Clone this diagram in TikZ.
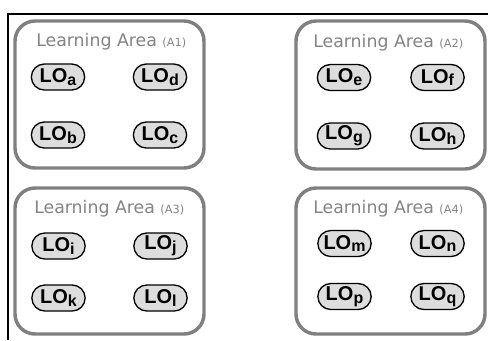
\documentclass[tikz,border=0pt]{standalone}
\usepackage{fontspec}
\usetikzlibrary{shapes.misc}
\newfontfamily\areafont{DejaVu Sans}
\newfontfamily\lofont{Liberation Sans}
\newcommand{\losub}[1]{\raisebox{-2.2pt}{\fontsize{12}{12}\selectfont #1}}
\newcommand{\areatag}[1]{{\fontsize{8.5}{8.5}\selectfont #1}}

\begin{document}
\begin{tikzpicture}[x=0.75pt,y=0.75pt,yscale=-1,xscale=1,
	areabox/.style={draw={rgb, 255:red, 128; green, 128; blue, 128 }, line width=2.6pt, rounded corners=15pt},
	areatitle/.style={anchor=base west, inner sep=0pt, text={rgb, 255:red, 132; green, 132; blue, 132 }, font=\areafont\fontsize{13}{13}\selectfont},
	lopill/.style={rounded rectangle, draw, line width=1pt, fill={rgb, 255:red, 221; green, 221; blue, 221 }, minimum width=42pt, minimum height=19.5pt, inner sep=1pt, font=\lofont\bfseries\fontsize{15}{15}\selectfont}]
	\useasboundingbox (0,0) rectangle (488,340);
	
	%Frame Lines
	\draw [line width=1.6pt]  (488,14) -- (8,14) -- (8,340) ;
	
	%Rounded Rect (A1)
	\draw [areabox]  (15,21) rectangle (204,168) ;
	%Rounded Rect (A2)
	\draw [areabox]  (296,21) rectangle (485,169) ;
	%Rounded Rect (A3)
	\draw [areabox]  (15,188) rectangle (204,334) ;
	%Rounded Rect (A4)
	\draw [areabox]  (296,188) rectangle (485,334) ;
	
	% Text Node
	\node (ttl_a1) [areatitle] at (36,46) {Learning Area \areatag{(A1)}};
	% Text Node
	\node (ttl_a2) [areatitle] at (313,47) {Learning Area \areatag{(A2)}};
	% Text Node
	\node (ttl_a3) [areatitle] at (34,213) {Learning Area \areatag{(A3)}};
	% Text Node
	\node (ttl_a4) [areatitle] at (313,213) {Learning Area \areatag{(A4)}};
	
	% LO Nodes (A1)
	\node (lo_a) [lopill] at (58,77) {LO\losub{a}};
	\node (lo_d) [lopill] at (160,77) {LO\losub{d}};
	\node (lo_b) [lopill] at (58,135) {LO\losub{b}};
	\node (lo_c) [lopill] at (160,135) {LO\losub{c}};
	% LO Nodes (A2)
	\node (lo_e) [lopill] at (344,77.5) {LO\losub{e}};
	\node (lo_f) [lopill] at (437.5,77.5) {LO\losub{f}};
	\node (lo_g) [lopill] at (344,136) {LO\losub{g}};
	\node (lo_h) [lopill] at (437.5,136) {LO\losub{h}};
	% LO Nodes (A3)
	\node (lo_i) [lopill] at (58.5,246) {LO\losub{i}};
	\node (lo_j) [lopill] at (160.5,246) {LO\losub{j}};
	\node (lo_k) [lopill] at (58.5,298) {LO\losub{k}};
	\node (lo_l) [lopill] at (160.5,298) {LO\losub{l}};
	% LO Nodes (A4)
	\node (lo_m) [lopill] at (344.5,243.5) {LO\losub{m}};
	\node (lo_n) [lopill] at (437.5,243.5) {LO\losub{n}};
	\node (lo_p) [lopill] at (344.5,296.5) {LO\losub{p}};
	\node (lo_q) [lopill] at (437.5,296.5) {LO\losub{q}};
\end{tikzpicture}
\end{document}
